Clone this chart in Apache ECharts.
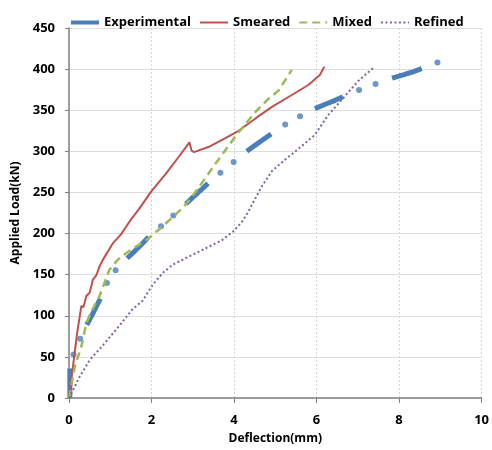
<!DOCTYPE html>
<html><head><meta charset="utf-8">
<script src="https://cdn.jsdelivr.net/npm/echarts@6/dist/echarts.min.js"></script>
<style>html,body{margin:0;padding:0;background:#fff}#c{width:492px;height:450px}</style>
</head><body><div id="c"></div>
<script>
// Experimental: dense segments (drawn as thick lines) and isolated readings (dots)
const expSegments = [
  [[0.02,0],[0.02,18],[0.02,36]],
  [[0.43,89],[0.55,100],[0.66,111],[0.76,121]],
  [[1.41,170],[1.6,179],[1.78,188],[1.93,196]],
  [[2.83,236],[3.0,244],[3.2,253],[3.37,261]],
  [[4.31,300],[4.5,307],[4.7,314],[4.90,321]],
  [[5.96,352],[6.2,357],[6.45,362],[6.64,366.5]],
  [[7.83,389],[8.1,393],[8.35,397],[8.55,400.5]]
];
const expDots = [[0.11,53],[0.27,72],[0.92,140],[1.13,155.5],[2.23,209],[2.53,222],[3.67,274],[3.99,287],[5.24,332.5],[5.60,342.6],[7.03,374.6],[7.43,382],[8.93,408]];
const smeared = [[0,0],[0.02,2],[0.1,40],[0.2,80],[0.30,112],[0.35,110.5],[0.42,124],[0.50,128],[0.58,144],[0.66,149],[0.74,160],[0.82,168],[0.94,178],[1.06,188],[1.26,199],[1.38,208],[1.50,217],[1.70,230],[1.99,251],[2.35,273],[2.67,294],[2.92,311],[2.97,301],[3.03,299],[3.07,298.5],[3.39,305.5],[3.79,316],[4.11,325],[4.52,340],[4.92,354],[5.40,368.5],[5.80,380.7],[6.08,392.8],[6.19,403]];
const mixed = [[0,0],[0.14,38],[0.30,63],[0.42,91],[0.54,105],[0.74,124],[0.86,140],[0.98,156],[1.18,168],[1.38,176],[1.62,184],[1.90,193],[2.23,207],[2.51,220],[2.75,231],[2.99,245],[3.20,260],[3.55,285],[4.03,318],[4.52,348],[4.84,364],[5.08,374],[5.40,399]];
const refined = [[0,0],[0.26,26],[0.50,46],[0.82,64],[1.14,83],[1.54,108],[1.78,118],[2.02,137],[2.27,152],[2.51,162],[2.91,172],[3.31,182],[3.71,192],[3.99,203],[4.19,214],[4.35,227],[4.52,243],[4.67,257],[4.92,276],[5.24,290],[5.56,303],[5.96,320],[6.28,344],[6.60,362],[7.00,385],[7.41,403]];
const xTicks = [0,2,4,6,8,10];
const yTicks = [0,50,100,150,200,250,300,350,400,450];

const expLine = [];
expSegments.forEach((s,i)=>{ if(i) expLine.push([null,null]); s.forEach(p=>expLine.push(p)); });

const F = "'Open Sans', sans-serif";
const chart = echarts.init(document.getElementById('c'));
chart.setOption({
  animation:false,
  legend:{
    top:11,left:64,itemGap:8,itemWidth:28,itemHeight:12,
    itemStyle:{opacity:0},
    textStyle:{fontFamily:F,fontWeight:'bold',fontSize:13,color:'#000'},
    data:[{name:'Experimental',lineStyle:{width:4}},'Smeared','Mixed','Refined']
  },
  grid:{left:69,right:7.5,top:28,bottom:51.7},
  xAxis:{
    type:'value',min:0,max:10,interval:2,
    name:'Deflection(mm)',nameLocation:'middle',nameGap:35,
    nameTextStyle:{fontFamily:F,fontWeight:'bold',fontSize:12,color:'#000'},
    axisLine:{lineStyle:{color:'#808080',width:1.5}},
    axisTick:{show:true,length:5,lineStyle:{color:'#808080'}},
    axisLabel:{margin:16,fontFamily:F,fontWeight:'bold',fontSize:13,color:'#000',formatter:v=>xTicks.includes(v)?String(v):''},
    splitLine:{show:true,lineStyle:{color:'#d4d4d4',type:[2,2]}}
  },
  yAxis:{
    type:'value',min:0,max:450,interval:50,
    name:'Applied Load(kN)',nameLocation:'middle',nameGap:41,
    nameTextStyle:{fontFamily:F,fontWeight:'bold',fontSize:12,color:'#000'},
    axisLine:{show:true,lineStyle:{color:'#808080',width:1.5}},
    axisTick:{show:true,length:4,lineStyle:{color:'#808080'}},
    axisLabel:{margin:14,fontFamily:F,fontWeight:'bold',fontSize:13,color:'#000',formatter:v=>yTicks.includes(v)?String(v):''},
    splitLine:{show:true,lineStyle:{color:'#dedede'}}
  },
  series:[
    {name:'Experimental',type:'line',data:expLine,symbol:'none',connectNulls:false,
     lineStyle:{color:'#4a7ebb',width:5},itemStyle:{color:'#4a7ebb'}},
    {name:'Smeared',type:'line',data:smeared,symbol:'none',
     lineStyle:{color:'#c0504d',width:2},itemStyle:{color:'#c0504d'}},
    {name:'Mixed',type:'line',data:mixed,symbol:'none',
     lineStyle:{color:'#9bbb59',width:2.5,type:[8,5]},itemStyle:{color:'#9bbb59'}},
    {name:'Refined',type:'line',data:refined,symbol:'none',
     lineStyle:{color:'#8064a2',width:2,type:[2,2.5]},itemStyle:{color:'#8064a2'}},
    {name:'Experimental',type:'scatter',data:expDots,symbol:'circle',symbolSize:6,
     itemStyle:{color:'#4a7ebb'}}
  ]
});
</script></body></html>
